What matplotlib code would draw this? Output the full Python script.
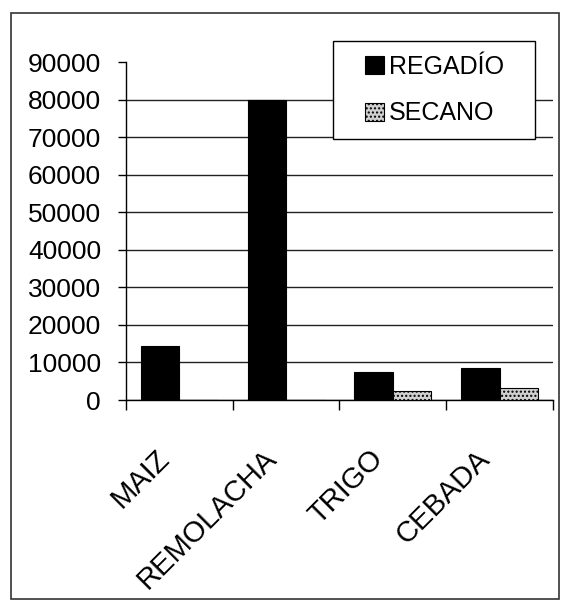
import matplotlib.pyplot as plt
import matplotlib.transforms as mtransforms
from matplotlib.patches import Rectangle
import numpy as np

# Data
cultivos = ["MAIZ", "REMOLACHA", "TRIGO", "CEBADA"]
regadio = [14300, 80000, 7400, 8400]
secano = [0, 0, 2300, 3200]
y_ticks = list(range(0, 90001, 10000))

plt.rcParams["font.family"] = ["Liberation Sans", "DejaVu Sans"]

fig = plt.figure(figsize=(5.61, 6.01), dpi=100)
fig.patch.set_facecolor("white")

# outer frame around the whole chart
fig.patches.append(Rectangle((0.019, 0.004), 0.977, 0.974, transform=fig.transFigure,
                             fill=False, edgecolor="#333333", linewidth=1.2))

ax = fig.add_axes([0.2246, 0.3344, 0.7611, 0.5624])

x = np.arange(len(cultivos))
w = 0.36
ax.bar(x - w / 2, regadio, w, color="black", edgecolor="black", linewidth=0.8,
       label="REGADÍO", zorder=3)
ax.bar(x + w / 2, secano, w, color="#d0d0d0", edgecolor="black", linewidth=0.8,
       hatch="....", label="SECANO", zorder=3)

ax.set_xlim(-0.5, len(cultivos) - 0.5)
ax.set_ylim(0, 90000)
ax.set_yticks(y_ticks)
ax.set_yticklabels([str(v) for v in y_ticks], fontsize=19)
ax.yaxis.grid(True, color="#222222", linewidth=1.0, zorder=0)
ax.get_ygridlines()[-1].set_visible(False)  # no line at the top value
ax.tick_params(axis="y", length=6, width=1, pad=12)

# category boundaries get the ticks, labels go in the middle
ax.set_xticks(np.arange(-0.5, len(cultivos)), minor=False)
ax.set_xticklabels([])
ax.tick_params(axis="x", which="major", length=7, width=1, direction="out")
ax.set_xticks(x, minor=True)
labels = ax.set_xticklabels(cultivos, minor=True, rotation=45, ha="right",
                            rotation_mode="anchor", fontsize=21)
ax.tick_params(axis="x", which="minor", length=0, pad=32)
shift = mtransforms.ScaledTranslation(-24 / 100, 0, fig.dpi_scale_trans)
for lab in labels:
    lab.set_transform(lab.get_transform() + shift)

for s in ["top", "right"]:
    ax.spines[s].set_visible(False)
ax.spines["left"].set_linewidth(1)
ax.spines["bottom"].set_linewidth(1)

# legend: entries without frame, plus a plain box around them
box = Rectangle((0.5936, 0.7687), 0.3601, 0.1631, transform=fig.transFigure,
                facecolor="white", edgecolor="black", linewidth=1,
                zorder=4, clip_on=False)
ax.add_patch(box)
leg = ax.legend(loc="center", bbox_to_anchor=(0.775, 0.85), bbox_transform=fig.transFigure,
                fontsize=18, frameon=False, handlelength=0.75, handleheight=0.75,
                handletextpad=0.2, labelspacing=0.9, borderpad=0)
leg.set_zorder(5)

fig.savefig("out.png", dpi=100)
